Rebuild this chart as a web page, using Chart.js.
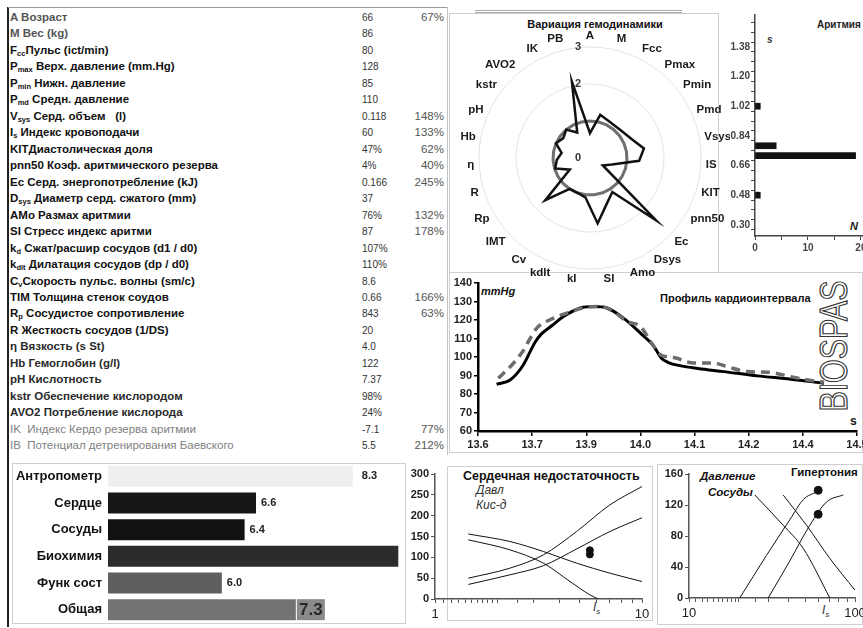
<!DOCTYPE html>
<html lang="ru">
<head>
<meta charset="utf-8">
<title>BIOSPAS</title>
<script src="https://cdn.jsdelivr.net/npm/chart.js@4.4.1/dist/chart.umd.min.js"></script>
<style>
html,body{margin:0;padding:0;background:#fff;}
#page{position:relative;width:863px;height:628px;overflow:hidden;font-family:"Liberation Sans",Arial,sans-serif;color:#111;}
#page canvas{position:absolute;}
.t{position:absolute;white-space:nowrap;line-height:1;}
.box{position:absolute;border:1px solid #cfcfcf;box-sizing:border-box;}
.row{position:absolute;left:10px;font-size:11.5px;font-weight:bold;white-space:nowrap;line-height:14px;}
.row sub{font-size:7.5px;line-height:0;vertical-align:-2px;}
.val{position:absolute;left:362px;font-size:10px;color:#333;line-height:14px;}
.pct{position:absolute;right:419px;font-size:11.5px;color:#555;line-height:14px;}
</style>
</head>
<body>
<div id="page">
  <div style="position:absolute;left:7px;top:7px;width:2px;height:620px;background:#222"></div>
  <div style="position:absolute;left:8px;top:7px;width:440px;height:1px;background:#999"></div>
  <div style="position:absolute;left:447px;top:7px;width:1px;height:448px;background:#c4c4c4"></div>
  <div style="position:absolute;left:475px;top:10px;width:207px;height:1px;border-top:1px solid #aaa;border-bottom:1px solid #aaa"></div>
  <div id="table"></div>

  <div class="box" style="left:449px;top:13px;width:270px;height:260px"></div>
  <div class="box" style="left:449px;top:272px;width:414px;height:181px"></div>
  <div class="box" style="left:12px;top:463px;width:394px;height:161px"></div>
  <div class="box" style="left:447px;top:466px;width:206px;height:155px"></div>
  <div class="box" style="left:657px;top:464px;width:206px;height:161px"></div>

  <div class="t" style="left:595px;top:19px;transform:translateX(-50%);font-size:11px;font-weight:bold;">Вариация гемодинамики</div>
  <div class="t" style="left:817px;top:20px;font-size:10px;font-weight:bold;color:#222">Аритмия</div>
  <div class="t" style="left:767px;top:35px;font-size:10px;font-style:italic;font-weight:bold;color:#333">s</div>
  <div class="t" style="left:850px;top:221px;font-size:11px;font-style:italic;font-weight:bold;color:#222">N</div>

  <div class="t" style="left:481px;top:286px;font-size:11px;font-style:italic;font-weight:bold;">mmHg</div>
  <div class="t" style="left:660px;top:293px;font-size:11px;font-weight:bold;">Профиль кардиоинтервала</div>
  <div class="t" style="left:850px;top:415px;font-size:12px;font-weight:bold;">s</div>
  <div class="t" style="left:834px;top:346px;font-size:38px;color:#fff;-webkit-text-stroke:1.2px #333;transform:translate(-50%,-50%) rotate(-90deg) scaleX(0.8);">BIOSPAS</div>

  <div class="t" style="left:463px;top:470px;font-size:12.5px;font-weight:bold;">Сердечная недостаточность</div>
  <div class="t" style="left:476px;top:484px;font-size:12px;font-style:italic;color:#333">Давл</div>
  <div class="t" style="left:476px;top:499px;font-size:12px;font-style:italic;color:#333">Кис-д</div>
  <div class="t" style="left:593px;top:601px;font-size:12px;font-style:italic;color:#333">I<sub style="font-size:8px">s</sub></div>

  <div class="t" style="left:700px;top:471px;font-size:11.5px;font-style:italic;font-weight:bold;">Давление</div>
  <div class="t" style="left:708px;top:487px;font-size:11.5px;font-style:italic;font-weight:bold;">Сосуды</div>
  <div class="t" style="left:791px;top:467px;font-size:11.5px;font-weight:bold;">Гипертония</div>
  <div class="t" style="left:822px;top:604px;font-size:12px;font-style:italic;color:#333">I<sub style="font-size:8px">s</sub></div>

  <canvas id="cRadar" width="282" height="276" style="left:448px;top:14px"></canvas>
  <canvas id="cArr" width="143" height="250" style="left:720px;top:10px"></canvas>
  <canvas id="cProf" width="423" height="185" style="left:440px;top:265px"></canvas>
  <canvas id="cBars" width="397" height="161" style="left:10px;top:462px"></canvas>
  <canvas id="cHF" width="252" height="164" style="left:405px;top:464px"></canvas>
  <canvas id="cHT" width="208" height="164" style="left:655px;top:464px"></canvas>
</div>
<script>
// ---------- data ----------
const tableLabels = [
  'A Возраст', 'M Вес (kg)', 'F<sub>cc</sub>Пульс (ict/min)', 'P<sub>max</sub> Верх. давление (mm.Hg)',
  'P<sub>min</sub> Нижн. давление', 'P<sub>md</sub> Средн. давление', 'V<sub>sys</sub> Серд. объем&nbsp;&nbsp; (l)',
  'I<sub>s</sub> Индекс кровоподачи', 'KITДиастолическая доля', 'pnn50 Коэф. аритмического резерва',
  'Ec Серд. энергопотребление (kJ)', 'D<sub>sys</sub> Диаметр серд. сжатого (mm)', 'AMo Размах аритмии',
  'SI Стресс индекс аритми', 'k<sub>d</sub> Сжат/расшир сосудов (d1 / d0)', 'k<sub>dlt</sub> Дилатация сосудов (dp / d0)',
  'C<sub>v</sub>Скорость пульс. волны (sm/c)', 'TIM Толщина стенок соудов', 'R<sub>p</sub> Сосудистое сопротивление',
  'R Жесткость сосудов (1/DS)', 'η Вязкость (s St)', 'Hb Гемоглобин (g/l)', 'pH Кислотность',
  'kstr Обеспечение кислородом', 'AVO2 Потребление кислорода', 'IK&nbsp; Индекс Кердо резерва аритмии',
  'IB&nbsp; Потенциал детренирования Баевского'
];
const tableValues = ['66','86','80','128','85','110','0.118','60','47%','4%','0.166','37','76%','87','107%','110%',
  '8.6','0.66','843','20','4.0','122','7.37','98%','24%','-7.1','5.5'];
const tablePercents = ['67%','','','','','','148%','133%','62%','40%','245%','','132%','178%','','','','166%','63%',
  '','','','','','','77%','212%'];

const radarLabels = ['A','M','Fcc','Pmax','Pmin','Pmd','Vsys','IS','KIT','pnn50','Ec','Dsys','Amo','SI','kI','kdlt',
  'Cv','IMT','Rp','R','η','Hb','pH','kstr','AVO2','IK','PB'];
const radarValues = [0.67,1.2,1.12,1.10,1.14,1.25,1.48,1.33,0.62,0.40,2.45,1.10,1.32,1.78,1.07,1.0,1.0,1.66,0.63,
  0.98,0.9,0.78,1.0,0.9,1.0,0.77,2.12];
const radarNorm = [1,1,1,1,1,1,1,1,1,1,1,1,1,1,1,1,1,1,1,1,1,1,1,1,1,1,1];
const radarTickLabels = [0,2,3];

const arrS = [1.02,0.78,0.72,0.48];
const arrN = [1,4,19,1];
const arrTicks = [0.30,0.36,0.42,0.48,0.54,0.60,0.66,0.72,0.78,0.84,0.90,0.96,1.02,1.08,1.14,1.20,1.26,1.32,1.38,1.44,1.50];
const arrXTicks = [0,5,10,15,20];

const profTicks = [13.6,13.728,13.856,13.984,14.112,14.24,14.368,14.496];
const profX = [13.644,13.676,13.707,13.735,13.75,13.775,13.802,13.842,13.873,13.905,13.944,13.984,14.015,14.033,14.05,14.08,14.12,14.181,14.26,14.339,14.418];
const profY = [85.3,87.6,95.7,108.0,112.5,117.0,121.9,126.5,127.3,126.5,121.0,112.9,106.0,99.5,97.0,95.2,93.8,92.1,89.8,88.0,85.8];
const dashX = [13.648,13.68,13.703,13.739,13.77,13.81,13.85,13.889,13.92,13.952,13.984,14.008,14.031,14.063,14.11,14.157,14.189,14.237,14.284,14.339,14.379,14.418];
const dashY = [88.5,95.7,102.1,115.6,120.1,123.7,126.6,127.3,124.6,119.2,116.5,108.4,101.2,99.7,96.7,96.7,94.8,92.1,91.8,89.4,87.6,86.4];

const bottomCats = ['Антропометр','Сердце','Сосуды','Биохимия','Функ сост','Общая'];
const bottomVals = [8.3,6.6,6.4,9.1,6.0,7.3];

const hfX = [1.45,2.3,3.34,4.83,7.0,10.0];
const hfRiseHigh = [50,74,106,162,226,270];
const hfRiseLow = [35,58,80,120,162,195];
const hfFallHigh = [156,138,114,86,62,42];
const hfFallLowX = [1.45,2.3,3.34,4.49,5.6,6.15];
const hfFallLowY = [142,118,86,42,10,0];
const hfDotX = [5.6,5.6];
const hfDotY = [117,107];

const htRiseAX = [20.2,29.3,40.5,48.8,58.7];
const htRiseAY = [0,55,101,127,137];
const htRiseBX = [30,40.5,53.5,67.5,85];
const htRiseBY = [0,48,94,124,133];
const htFallAX = [24.9,36.9,48.8,70.6];
const htFallAY = [133,94,64,0];
const htFallBX = [36.9,51,70.6,100];
const htFallBY = [133,94,51,10];
const htDotX = [60,60];
const htDotY = [139,108];

// ---------- table ----------
(function(){
  const host = document.getElementById('table');
  let html = '';
  tableLabels.forEach((lab,i)=>{
    const y = 10 + i*16.47;
    let col = '#111', w = 'bold';
    if (i < 2) col = '#555';
    if (i >= 20 && i <= 24) col = '#2a2a2a';
    if (i >= 25) { col = '#808080'; w = 'normal'; }
    html += `<div class="row" style="top:${y}px;color:${col};font-weight:${w}">${lab}</div>`;
    html += `<div class="val" style="top:${y+1}px">${tableValues[i]}</div>`;
    if (tablePercents[i]) html += `<div class="pct" style="top:${y}px">${tablePercents[i]}</div>`;
  });
  host.innerHTML = html;
})();

// ---------- charts ----------
const FONT = "'Liberation Sans', Arial, sans-serif";
Chart.defaults.font.family = FONT;
Chart.defaults.color = '#222';
Chart.defaults.animation = false;
Chart.defaults.responsive = false;
Chart.defaults.plugins.legend.display = false;
Chart.defaults.plugins.tooltip.enabled = false;

const yFit = w => s => { s.width = w; s.paddingTop = 0; s.paddingBottom = 0; };
const xFit = h => s => { s.height = h; s.paddingLeft = 0; s.paddingRight = 0; };
const xy = (xs, ys) => xs.map((x,i)=>({x:x, y:ys[i]}));

// Radar
const radarText = {
  id:'radarText',
  afterDraw(chart){
    const s = chart.scales.r, ctx = chart.ctx, n = radarLabels.length;
    ctx.save();
    ctx.font = 'bold 11.5px ' + FONT;
    ctx.fillStyle = '#1a1a1a';
    ctx.textBaseline = 'middle';
    radarLabels.forEach((lab,i)=>{
      const a = i*2*Math.PI/n;
      const p = s.getPointPosition(i, s.drawingArea + 5);
      const sn = Math.sin(a), cs = Math.cos(a);
      ctx.textAlign = Math.abs(sn) < 0.05 ? 'center' : (sn > 0 ? 'left' : 'right');
      ctx.fillText(lab, p.x, p.y - cs*6);
    });
    ctx.font = 'bold 11px ' + FONT;
    ctx.fillStyle = '#333';
    ctx.textAlign = 'center';
    radarTickLabels.forEach(v=>{
      const d = s.getDistanceFromCenterForValue(v);
      ctx.fillText(String(v), s.xCenter - 12, s.yCenter - d);
    });
    ctx.restore();
  }
};
new Chart('cRadar', {
  type:'radar',
  data:{labels:radarLabels, datasets:[
    {data:radarValues, borderColor:'#111', borderWidth:2.5, pointRadius:0, fill:false, tension:0, order:0},
    {data:radarNorm, borderColor:'#6f6f6f', borderWidth:3, pointRadius:0, fill:false, tension:0, order:1}
  ]},
  options:{
    devicePixelRatio:1,
    layout:{padding:{left:31,right:29,top:33,bottom:21}},
    scales:{r:{min:0,max:3,
      ticks:{display:false,stepSize:1},
      pointLabels:{display:false},
      grid:{color:'#e4e4e4', circular:true},
      angleLines:{display:false}}}
  },
  plugins:[radarText]
});

// Arrhythmia histogram
new Chart('cArr', {
  type:'bar',
  data:{datasets:[{data:xy(arrN, arrS), backgroundColor:'#111', barThickness:6}]},
  options:{
    devicePixelRatio:1, indexAxis:'y',
    layout:{padding:{top:5,right:0,left:0,bottom:0}},
    scales:{
      y:{type:'linear', min:0.264, max:1.542,
        afterBuildTicks:s=>{ s.ticks = arrTicks.map(v=>({value:v})); },
        ticks:{autoSkip:false, callback:(v,i)=> i%3===0 ? Number(v).toFixed(2) : '', font:{size:10,weight:'bold'}, color:'#444', padding:1},
        grid:{drawOnChartArea:false, tickLength:4, color:'#444'},
        border:{color:'#444', width:1.5},
        afterFit:yFit(35)},
      x:{type:'linear', min:0, max:20.4,
        afterBuildTicks:s=>{ s.ticks = arrXTicks.map(v=>({value:v})); },
        ticks:{autoSkip:false, maxRotation:0, callback:v=> v%10===0 ? String(v) : '', font:{size:10,weight:'bold'}, color:'#444', padding:2},
        grid:{drawOnChartArea:false, tickLength:4, color:'#444'},
        border:{color:'#444', width:1.5},
        afterFit:xFit(24)}
    }
  }
});

// Profile line chart
new Chart('cProf', {
  type:'line',
  data:{datasets:[
    {data:xy(profX, profY), borderColor:'#000', borderWidth:3, pointRadius:0, cubicInterpolationMode:'monotone', fill:false, order:1},
    {data:xy(dashX, dashY), borderColor:'#6c6c6c', borderWidth:3.5, borderDash:[9,6], pointRadius:0, cubicInterpolationMode:'monotone', fill:false, order:0}
  ]},
  options:{
    devicePixelRatio:1,
    layout:{padding:{top:18,right:6,left:0,bottom:0}},
    scales:{
      x:{type:'linear', min:13.6, max:14.496,
        afterBuildTicks:s=>{ s.ticks = profTicks.map(v=>({value:v})); },
        ticks:{autoSkip:false, maxRotation:0, callback:v=>Number(v).toFixed(1), font:{size:11,weight:'bold'}, color:'#222', padding:2},
        grid:{drawOnChartArea:false, tickLength:5, color:'#000', lineWidth:1.5},
        border:{color:'#000', width:2.5},
        afterFit:xFit(19)},
      y:{min:60, max:140,
        ticks:{stepSize:10, font:{size:11,weight:'bold'}, color:'#222', padding:2},
        grid:{drawOnChartArea:false, tickLength:4, color:'#000', lineWidth:1.5},
        border:{color:'#000', width:2.5},
        afterFit:yFit(38)}
    }
  }
});

// Bottom horizontal bars
const barLabels = {
  id:'barLabels',
  afterDatasetsDraw(chart){
    const ctx = chart.ctx, meta = chart.getDatasetMeta(0), last = bottomVals.length - 1;
    ctx.save();
    ctx.textBaseline = 'middle';
    meta.data.forEach((el,i)=>{
      const v = bottomVals[i].toFixed(1);
      ctx.font = 'bold 11px ' + FONT;
      if (el.x + 5 + ctx.measureText(v).width > chart.width) return;
      if (i === last) {
        ctx.fillStyle = '#8a8a8a';
        ctx.fillRect(el.x + 1, el.y - 10.5, 28, 21);
        ctx.font = 'bold 17px ' + FONT;
        ctx.fillStyle = '#2a2a2a';
        ctx.textAlign = 'center';
        ctx.fillText(v, el.x + 15, el.y + 1);
      } else {
        ctx.fillStyle = '#222';
        ctx.textAlign = 'left';
        ctx.fillText(v, el.x + (i === 0 ? 9 : 5), el.y);
      }
    });
    ctx.restore();
  }
};
new Chart('cBars', {
  type:'bar',
  data:{labels:bottomCats, datasets:[{data:bottomVals,
    backgroundColor:['#efefef','#161616','#111111','#2c2c2c','#5f5f5f','#737373'],
    categoryPercentage:1, barPercentage:0.79}]},
  options:{
    devicePixelRatio:1, indexAxis:'y',
    layout:{padding:{top:1,right:3,left:0,bottom:0}},
    scales:{
      x:{display:false, min:4, max:9.2},
      y:{ticks:{font:{size:13,weight:'bold'}, color:'#111', padding:6},
        grid:{display:false, drawTicks:false}, border:{display:false},
        afterFit:yFit(98)}
    }
  },
  plugins:[barLabels]
});

// Heart failure
const lineDs = (d) => ({data:d, showLine:true, borderColor:'#111', borderWidth:1, pointRadius:0, cubicInterpolationMode:'monotone', fill:false});
const dotDs = (d) => ({data:d, showLine:false, pointRadius:3.5, backgroundColor:'#111', borderColor:'#111'});
const isOne = v => Math.abs(v-1) < 1e-9, isTen = v => Math.abs(v-10) < 1e-9, isHundred = v => Math.abs(v-100) < 1e-9;
new Chart('cHF', {
  type:'scatter',
  data:{datasets:[
    lineDs(xy(hfX, hfRiseHigh)), lineDs(xy(hfX, hfRiseLow)), lineDs(xy(hfX, hfFallHigh)),
    lineDs(xy(hfFallLowX, hfFallLowY)), dotDs(xy(hfDotX, hfDotY))
  ]},
  options:{
    devicePixelRatio:1,
    layout:{padding:{top:10,right:15,left:0,bottom:0}},
    scales:{
      x:{type:'logarithmic', min:1, max:10,
        ticks:{autoSkip:false, maxRotation:0, callback:v=> (isOne(v)||isTen(v)) ? String(Math.round(v)) : '', font:{size:13}, color:'#222', padding:4},
        grid:{drawOnChartArea:false, tickLength:4, color:'#555'},
        border:{color:'#555', width:1.5},
        afterFit:xFit(29)},
      y:{min:0, max:300,
        ticks:{stepSize:50, font:{size:11,weight:'bold'}, color:'#222', padding:2},
        grid:{drawOnChartArea:false, tickLength:4, color:'#555'},
        border:{color:'#555', width:1.5},
        afterFit:yFit(30)}
    }
  }
});

// Hypertension
new Chart('cHT', {
  type:'scatter',
  data:{datasets:[
    lineDs(xy(htRiseAX, htRiseAY)), lineDs(xy(htRiseBX, htRiseBY)), lineDs(xy(htFallAX, htFallAY)),
    lineDs(xy(htFallBX, htFallBY)), Object.assign(dotDs(xy(htDotX, htDotY)), {pointRadius:4})
  ]},
  options:{
    devicePixelRatio:1,
    layout:{padding:{top:10,right:8,left:0,bottom:0}},
    scales:{
      x:{type:'logarithmic', min:10, max:100,
        ticks:{autoSkip:false, maxRotation:0, callback:v=> (isTen(v)||isHundred(v)) ? String(Math.round(v)) : '', font:{size:13}, color:'#222', padding:4},
        grid:{drawOnChartArea:false, tickLength:4, color:'#555'},
        border:{color:'#555', width:1.5},
        afterFit:xFit(30)},
      y:{min:0, max:160,
        ticks:{stepSize:20, font:{size:11,weight:'bold'}, color:'#222', padding:2},
        grid:{drawOnChartArea:false, tickLength:4, color:'#555'},
        border:{color:'#555', width:1.5},
        afterFit:yFit(34)}
    }
  }
});
</script>
</body>
</html>
